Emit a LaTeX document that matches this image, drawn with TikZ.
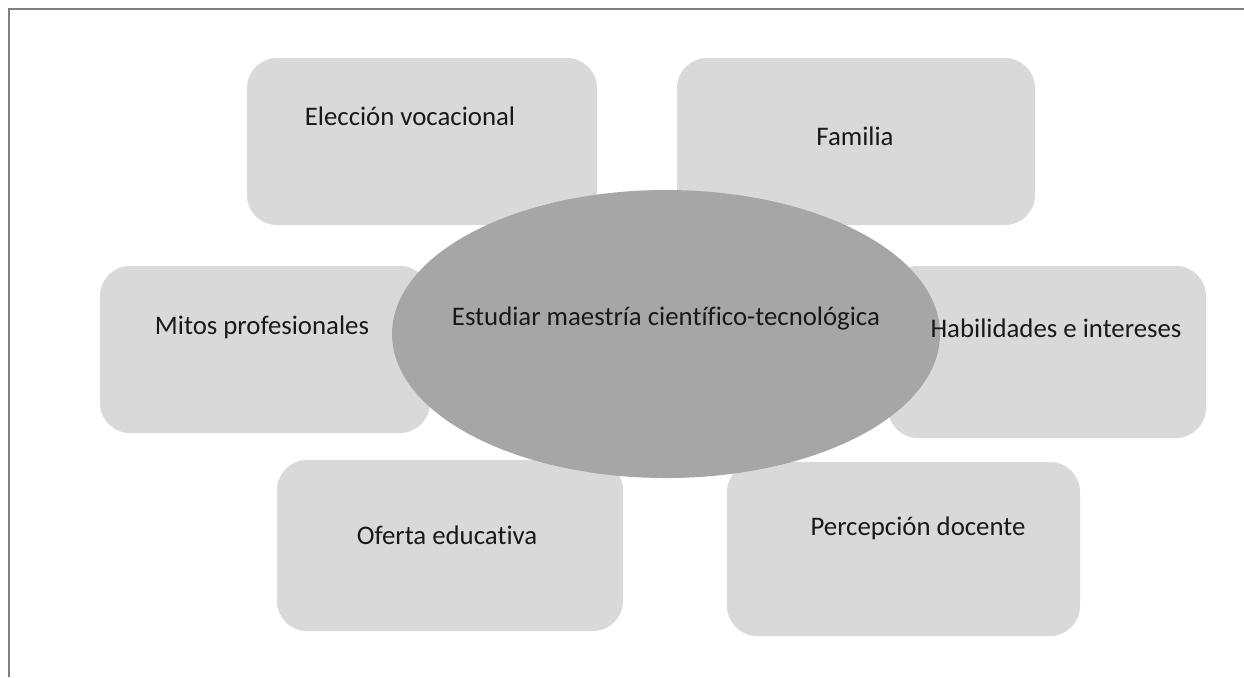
\documentclass[tikz,border=0pt]{standalone}
\usepackage{fontspec}
\setmainfont{Carlito}[Ligatures=NoCommon]
\usetikzlibrary{shapes.geometric}
\definecolor{boxfill}{HTML}{D9D9D9}
\definecolor{ellfill}{HTML}{A6A6A6}
\definecolor{framecol}{HTML}{808080}
\tikzset{
  factor/.style={draw=none, fill=boxfill, rounded corners=15pt, inner sep=0pt},
  lbl/.style={font=\fontsize{13.4}{15}\selectfont, text=black!90, inner sep=0pt},
  core/.style={ellipse, draw=none, fill=ellfill, inner sep=0pt},
  frameline/.style={draw=framecol, line width=1pt}
}
\begin{document}
\begin{tikzpicture}[x=0.5pt, y=-0.5pt]
\useasboundingbox (0,0) rectangle (1244,677);
\fill[white] (0,0) rectangle (1244,677);
\coordinate (ftl) at (9,9);
\coordinate (ftr) at (1244,9);
\coordinate (fbl) at (9,677);
\draw[frameline] (ftr) -- (ftl) -- (fbl);
% boxes
\node[factor, minimum width=175pt, minimum height=83.5pt] (b1) at (422,141.5) {};
\node[factor, minimum width=179pt, minimum height=83.5pt] (b2) at (856,141.5) {};
\node[factor, minimum width=165pt, minimum height=83.5pt] (b3) at (265,349.5) {};
\node[factor, minimum width=159pt, minimum height=86pt] (b4) at (1047,352) {};
\node[factor, minimum width=173pt, minimum height=85.5pt] (b5) at (450,545.5) {};
\node[factor, minimum width=176.5pt, minimum height=87pt] (b6) at (903.5,549) {};
% ellipse
\node[core, minimum width=274pt, minimum height=144pt] (c) at (666,334) {};
% labels
\node[lbl] (t1) at (410,116) {Elección vocacional};
\node[lbl] (t2) at (855,136) {Familia};
\node[lbl] (t3) at (262,327) {Mitos profesionales};
\node[lbl] (t4) at (1056,328) {Habilidades e intereses};
\node[lbl] (t5) at (447,535) {Oferta educativa};
\node[lbl] (t6) at (918,528) {Percepción docente};
\node[lbl] (tc) at (666,318) {Estudiar maestría científico-tecnológica};
\end{tikzpicture}
\end{document}
